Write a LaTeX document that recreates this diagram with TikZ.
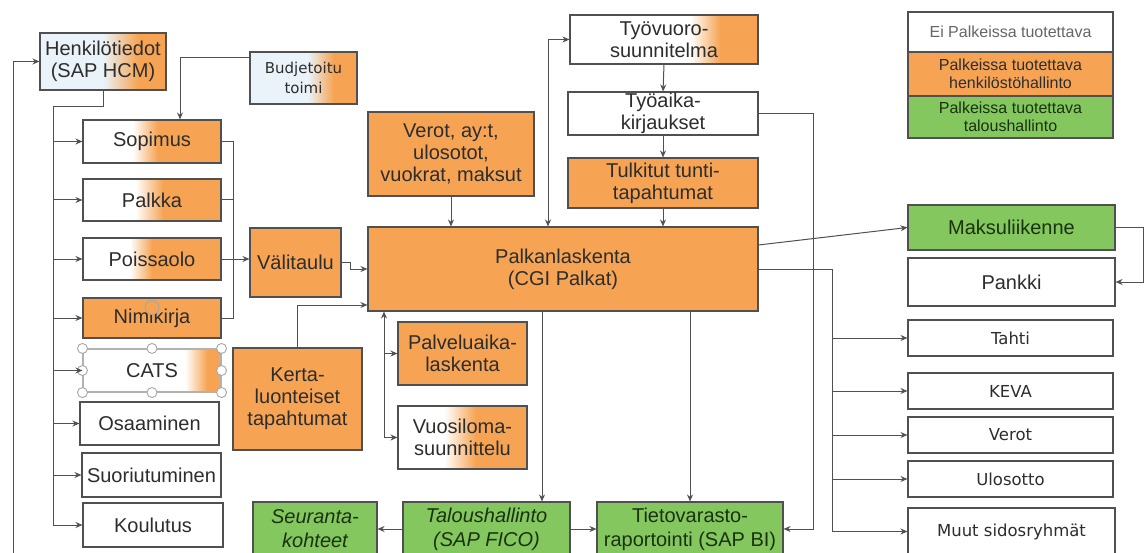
\documentclass[tikz,border=0pt]{standalone}
\usepackage{fontspec}
\setmainfont{Liberation Sans}
\newfontfamily\dejavu{DejaVu Sans}
\usetikzlibrary{arrows.meta}

\definecolor{boxor}{RGB}{246,164,84}
\definecolor{boxgr}{RGB}{133,199,95}
\definecolor{boxbl}{RGB}{234,243,250}
\definecolor{edge}{RGB}{80,80,80}
\definecolor{ink}{RGB}{45,45,45}
\definecolor{greenink}{RGB}{25,50,15}

% white (or pale) on the left, orange on the right
\newcommand{\orfade}[4]{\pgfdeclarehorizontalshading{#1}{100bp}{color(0bp)=(#2); color(#3bp)=(#2); color(#4bp)=(boxor); color(100bp)=(boxor)}}
\orfade{henkfade}{boxbl}{50}{64}
\orfade{budjfade}{boxbl}{52}{64}
\orfade{sopfade}{white}{43}{52}
\orfade{palkfade}{white}{44}{54}
\orfade{poisfade}{white}{42}{50}
\orfade{catsfade}{white}{62}{70}
\orfade{vuorofade}{white}{57}{65}
\orfade{lomafade}{white}{43}{55}

\begin{document}
\begin{tikzpicture}[x=1pt,y=-1pt]
        \tikzstyle{every node} = [rectangle]
        \tikzstyle{box} = [draw=edge, line width=1.1pt, text=ink, align=center, inner sep=1pt, font=\fontsize{20}{22}\selectfont]
        \tikzstyle{orbox} = [box, fill=boxor]
        \tikzstyle{grbox} = [box, fill=boxgr, text=greenink]
        \tikzstyle{wbox} = [box, fill=white]
        \tikzstyle{extbox} = [box, fill=white, font=\dejavu\fontsize{16.5}{19}\selectfont]
        \tikzstyle{legbox} = [box, minimum width=205pt, font=\fontsize{16}{18}\selectfont]
        \tikzstyle{line} = [draw=edge, line width=1pt]
        \tikzstyle{arr} = [line, -{Stealth[length=7pt,width=6pt]}]
        \tikzstyle{arrs} = [line, {Stealth[length=7pt,width=6pt]}-{Stealth[length=7pt,width=6pt]}]
        \tikzstyle{handle} = [draw=gray!70, line width=0.9pt, fill=white]
        \useasboundingbox (0,0) rectangle (1147,553);

        % henkilostohallinto
        \node[box, shade, shading=henkfade, minimum width=126pt, minimum height=57pt] (henk) at (103,61.5) {Henkilötiedot\\(SAP HCM)};
        \node[box, shade, shading=budjfade, minimum width=107pt, minimum height=52pt, font=\dejavu\fontsize{15}{20}\selectfont] (budj) at (303.5,78) {Budjetoitu\\toimi};
        \node[box, shade, shading=sopfade, minimum width=138pt, minimum height=43pt] (sopimus) at (152,141.5) {Sopimus};
        \node[box, shade, shading=palkfade, minimum width=138pt, minimum height=42pt] (palkka) at (152,200) {Palkka};
        \node[box, shade, shading=poisfade, minimum width=138pt, minimum height=42pt] (poissaolo) at (152,259) {Poissaolo};
        \node[orbox, minimum width=138pt, minimum height=40pt] (nimikirja) at (152,318) {Nimikirja};
        \node[box, shade, shading=catsfade, draw=gray!60, minimum width=138pt, minimum height=43pt] (cats) at (152,370.5) {CATS};
        \node[wbox, minimum width=139pt, minimum height=43pt] (osaaminen) at (149.5,423.5) {Osaaminen};
        \node[wbox, minimum width=139pt, minimum height=44pt] (suoriutuminen) at (151.5,475) {Suoriutuminen};
        \node[wbox, minimum width=140pt, minimum height=44pt] (koulutus) at (153,525) {Koulutus};
        \node[orbox, minimum width=91pt, minimum height=69pt] (valitaulu) at (295.5,262.5) {Välitaulu};
        \node[orbox, minimum width=129pt, minimum height=102pt] (kerta) at (297.5,399) {Kerta-\\luonteiset\\tapahtumat};

        % palkanlaskenta
        \node[orbox, minimum width=166pt, minimum height=84pt] (verot) at (451,154) {Verot, ay:t,\\ulosotot,\\vuokrat, maksut};
        \node[box, shade, shading=vuorofade, minimum width=188pt, minimum height=49pt] (vuoro) at (664,39.5) {Työvuoro-\\suunnitelma};
        \node[wbox, minimum width=190pt, minimum height=43pt] (tyoaika) at (663,113.5) {Työaika-\\kirjaukset};
        \node[orbox, minimum width=190pt, minimum height=50pt] (tulkitut) at (663,183) {Tulkitut tunti-\\tapahtumat};
        \node[orbox, minimum width=390pt, minimum height=84pt] (palk) at (563,269) {Palkanlaskenta\\(CGI Palkat)};
        \node[orbox, minimum width=129pt, minimum height=63pt] (palvelu) at (462.5,353.5) {Palveluaika-\\laskenta};
        \node[box, shade, shading=lomafade, minimum width=129pt, minimum height=63pt] (loma) at (462.5,437.5) {Vuosiloma-\\suunnittelu};

        % taloushallinto
        \node[grbox, minimum width=124pt, minimum height=54pt, font=\fontsize{20}{24}\selectfont\itshape] (seuranta) at (315,529) {Seuranta-\\kohteet};
        \node[grbox, minimum width=167pt, minimum height=54pt, font=\fontsize{20}{24}\selectfont\itshape] (talous) at (486.5,529) {Taloushallinto\\(SAP FICO)};
        \node[grbox, minimum width=186pt, minimum height=54pt, font=\fontsize{20}{24}\selectfont] (tieto) at (690,529) {Tietovarasto-\\raportointi (SAP BI)};

        % selitteet
        \node[legbox, fill=white, minimum height=40pt, text=gray!80!black] (legw) at (1010.5,32) {Ei Palkeissa tuotettava};
        \node[legbox, fill=boxor, minimum height=44pt] (lego) at (1010.5,74) {Palkeissa tuotettava\\henkilöstöhallinto};
        \node[legbox, fill=boxgr, minimum height=42pt, text=greenink] (legg) at (1010.5,117) {Palkeissa tuotettava\\taloushallinto};

        % sidosryhmat
        \node[grbox, minimum width=207pt, minimum height=45pt] (maksu) at (1011.5,227.5) {Maksuliikenne};
        \node[wbox, minimum width=207pt, minimum height=48pt] (pankki) at (1011.5,282) {Pankki};
        \node[extbox, minimum width=205pt, minimum height=36pt] (tahti) at (1010.5,338) {Tahti};
        \node[extbox, minimum width=205pt, minimum height=36pt] (keva) at (1010.5,391) {KEVA};
        \node[extbox, minimum width=205pt, minimum height=36pt] (verot2) at (1010.5,435) {Verot};
        \node[extbox, minimum width=205pt, minimum height=36pt] (ulosotto) at (1010.5,479) {Ulosotto};
        \node[extbox, minimum width=207pt, minimum height=47pt] (muut) at (1011.5,531.5) {Muut sidosryhmät};

        % valintakahvat
        \foreach \a in {north west, north, north east, west, east, south west, south, south east}
            \draw[handle] (cats.\a) circle (5pt);
        \draw[handle, fill=boxor] ([yshift=-10pt]nimikirja.north) circle (7pt);

        % yhteydet vasemmalla
        \coordinate (lbot) at (13,553);
        \coordinate (hbus) at (53,107);
        \draw[arr] (lbot) |- (henk.west);
        \draw[line] (henk.south) |- (hbus);
        \draw[arr] (hbus) |- (koulutus.west);
        \foreach \n in {sopimus, palkka, poissaolo, nimikirja, cats, osaaminen, suoriutuminen}
            \draw[arr] (hbus |- \n.west) -- (\n.west);
        \draw[arr] ([yshift=20pt]budj.west) -| ([xshift=28pt]sopimus.north);
        \draw[line] (sopimus.east) -- ++(12,0) |- (nimikirja.east);
        \draw[line] (palkka.east) -- ++(12,0);
        \draw[arr] (poissaolo.east) -- (poissaolo.east -| valitaulu.west);
        \draw[arr] (valitaulu.east) -- ++(9,0) |- (palk.west);
        \draw[arr] (kerta.north) |- ([yshift=-36pt]palk.west);

        % yhteydet keskella
        \draw[arr] (verot.south) -- (verot.south |- palk.north);
        \draw[arrs] ([xshift=-15pt]palk.north) |- (vuoro.west);
        \draw[arr] (vuoro.south) -- (tyoaika.north);
        \draw[arr] (tyoaika.south) -- (tulkitut.north);
        \draw[arr] (tulkitut.south) -- (tulkitut.south |- palk.north);
        \draw[arr] (tyoaika.east) -- ++(55,0) |- (tieto.east);
        \coordinate (pbus) at ([xshift=-179pt]palk.south);
        \draw[arrs] (pbus) |- (loma.west);
        \draw[arr] (pbus |- palvelu.west) -- (palvelu.west);
        \draw[arr] ([xshift=-21pt]palk.south) -- ([xshift=-21pt]palk.south |- talous.north);
        \draw[arr] (palk.south -| tieto.north) -- (tieto.north);
        \draw[arr] (talous.west) -- (seuranta.east);
        \draw[arr] (talous.east) -- (tieto.west);

        % yhteydet oikealla
        \coordinate (rbus) at (832,269);
        \draw[arr] ([yshift=24pt]palk.east) -- (maksu.west);
        \draw[line] (palk.east) -- (rbus);
        \draw[arr] (rbus) |- (muut.west);
        \foreach \n in {tahti, keva, verot2, ulosotto}
            \draw[arr] (rbus |- \n.west) -- (\n.west);
        \draw[arr] (maksu.east) -- ++(28,0) |- (pankki.east);
\end{tikzpicture}
\end{document}
